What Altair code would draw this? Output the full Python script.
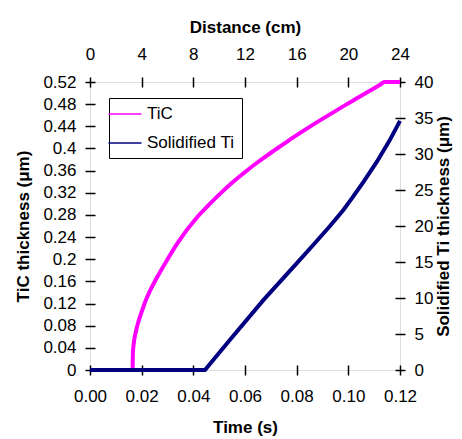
import altair as alt
import pandas as pd

# TiC thickness (um) vs time (s)
tic_t = [0.0, 0.0165, 0.0166, 0.0170, 0.0177, 0.0186, 0.0200, 0.0216, 0.0232, 0.0258,
         0.0290, 0.0340, 0.0413, 0.0460, 0.0503, 0.0550, 0.0594, 0.0640, 0.0690, 0.0740,
         0.0787, 0.0850, 0.0916, 0.0980, 0.1045, 0.1090, 0.1123, 0.1140, 0.1200]
tic_h = [0.0, 0.0, 0.030, 0.050, 0.068, 0.085, 0.105, 0.126, 0.143, 0.166,
         0.192, 0.230, 0.275, 0.298, 0.318, 0.338, 0.355, 0.372, 0.389, 0.405,
         0.420, 0.439, 0.458, 0.476, 0.494, 0.506, 0.515, 0.520, 0.520]

# Solidified Ti thickness (um) vs time (s)
ti_t = [0.0, 0.0445, 0.0542, 0.0671, 0.0800, 0.0870, 0.0929, 0.0980, 0.1015, 0.1060,
        0.1110, 0.1160, 0.1200]
ti_h = [0.0, 0.0, 4.2, 9.7, 14.8, 17.6, 20.0, 22.2, 23.9, 26.2,
        28.9, 31.9, 34.6]

series_names = ["TiC", "Solidified Ti"]
series_colors = ["#FF00FF", "#000080"]

time_ticks = [0.0, 0.02, 0.04, 0.06, 0.08, 0.10, 0.12]
distance_ticks = [0, 4, 8, 12, 16, 20, 24]
tic_ticks = [0, 0.04, 0.08, 0.12, 0.16, 0.2, 0.24, 0.28, 0.32, 0.36, 0.4, 0.44, 0.48, 0.52]
ti_ticks = [0, 5, 10, 15, 20, 25, 30, 35, 40]

df_tic = pd.DataFrame({"t": tic_t, "v": tic_h, "series": "TiC", "i": range(len(tic_t))})
df_ti = pd.DataFrame({"t": ti_t, "v": ti_h, "series": "Solidified Ti", "i": range(len(ti_t))})

FONT = "Liberation Sans"
color = alt.Color(
    "series:N",
    scale=alt.Scale(domain=series_names, range=series_colors),
    legend=alt.Legend(
        title=None, orient="none", legendX=19, legendY=16, direction="vertical",
        symbolType="M-2,0H2", symbolSize=272, symbolStrokeWidth=1.5,
        labelFontSize=17, labelFont=FONT, labelColor="black", labelOffset=13,
        padding=7, rowPadding=12, strokeColor="black", fillColor="white",
    ),
)

xscale = alt.Scale(domain=[0, 0.12], nice=False, zero=False)

common_axis = dict(
    domain=False, offset=-5, tickSize=10, tickColor="black", tickWidth=1.5,
    labelFont=FONT, labelFontSize=17, labelColor="black", labelFlush=False,
    labelOverlap=False,
    titleFont=FONT, titleFontSize=17, titleFontWeight="bold", titleColor="black",
    grid=False,
)

tic = alt.Chart(df_tic).mark_line(strokeWidth=4, interpolate="monotone").encode(
    x=alt.X("t:Q", scale=xscale,
            axis=alt.Axis(orient="bottom", title="Time (s)", values=time_ticks,
                          format=".2f", labelPadding=13, titlePadding=15, **common_axis)),
    y=alt.Y("v:Q", scale=alt.Scale(domain=[0, 0.52], nice=False),
            axis=alt.Axis(orient="left", title="TiC thickness (μm)", values=tic_ticks,
                          format="~g", labelPadding=9, titlePadding=10, **common_axis)),
    color=color,
    order="i:Q",
)

ti = alt.Chart(df_ti).mark_line(strokeWidth=4).encode(
    x=alt.X("t:Q", scale=xscale,
            axis=alt.Axis(orient="top", title="Distance (cm)",
                          values=[d / 200 for d in distance_ticks],
                          labelExpr="format(datum.value * 200, '.0f')",
                          labelPadding=14, titlePadding=9, **common_axis)),
    y=alt.Y("v:Q", scale=alt.Scale(domain=[0, 40], nice=False),
            axis=alt.Axis(orient="right", title="Solidified Ti thickness (μm)", values=ti_ticks,
                          labelPadding=9, titlePadding=3, titleAngle=270,
                          titleBaseline="top", **common_axis)),
    color=color,
    order="i:Q",
)

chart = alt.layer(tic, ti).resolve_scale(y="independent").resolve_axis(x="independent").properties(
    width=310, height=288,
    autosize=alt.AutoSizeParams(type="none"),
    padding={"left": 82, "top": 74, "right": 54, "bottom": 67},
).configure_view(stroke="black", strokeWidth=2.5).configure(background="white")

chart.save("out.html", embed_options={"renderer": "svg", "actions": False})
